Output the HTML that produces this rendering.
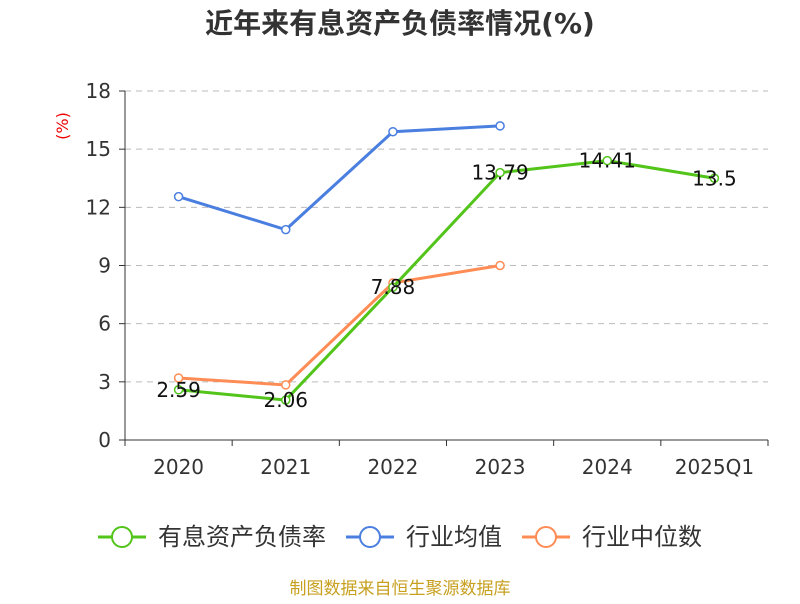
<!DOCTYPE html>
<html><head><meta charset="utf-8"><style>
body{margin:0;background:#fff;font-family:"DejaVu Sans","Noto Sans CJK SC",sans-serif}
</style></head><body>
<svg width="800" height="600" xmlns="http://www.w3.org/2000/svg" font-family="DejaVu Sans, Noto Sans CJK SC, sans-serif">
<text x="400" y="33" text-anchor="middle" font-size="28" font-weight="bold" fill="#333">近年来有息资产负债率情况(%)</text>
<text x="68" y="126" transform="rotate(-90 68 126)" text-anchor="middle" font-size="16" fill="#e00">(%)</text>
<g id="grid"></g><g id="axes"></g><g id="series"></g><g id="labels"></g>
<g>
<g><line x1="98" y1="537" x2="146" y2="537" stroke="#52c41a" stroke-width="3"/><circle cx="122" cy="537" r="10" fill="#fff" stroke="#52c41a" stroke-width="2"/><text x="158" y="545" font-size="24" fill="#333">有息资产负债率</text></g>
<g><line x1="346" y1="537" x2="394" y2="537" stroke="#4a7fe0" stroke-width="3"/><circle cx="370" cy="537" r="10" fill="#fff" stroke="#4a7fe0" stroke-width="2"/><text x="406" y="545" font-size="24" fill="#333">行业均值</text></g>
<g><line x1="522" y1="537" x2="570" y2="537" stroke="#ff8c55" stroke-width="3"/><circle cx="546" cy="537" r="10" fill="#fff" stroke="#ff8c55" stroke-width="2"/><text x="582" y="545" font-size="24" fill="#333">行业中位数</text></g>
</g>
<text x="400" y="594" text-anchor="middle" font-size="17" fill="#c8a020">制图数据来自恒生聚源数据库</text>
</svg>
<script>
const categories=["2020","2021","2022","2023","2024","2025Q1"];
const companyValues=[2.59,2.06,7.88,13.79,14.41,13.5];
const avgValues=[12.55,10.85,15.9,16.2,null,null];
const medianValues=[3.2,2.84,8.1,9.0,null,null];
const yTicks=[0,3,6,9,12,15,18];
const NS="http://www.w3.org/2000/svg";
const x0=125,x1=768,yB=440,yT=91;
const bw=(x1-x0)/categories.length;
const xS=i=>x0+bw*(i+0.5);
const yS=v=>yB-(v/18)*(yB-yT);
function mk(t,a,p){const e=document.createElementNS(NS,t);for(const k in a)e.setAttribute(k,a[k]);p.appendChild(e);return e;}
const grid=document.getElementById('grid'),axes=document.getElementById('axes'),ser=document.getElementById('series'),lab=document.getElementById('labels');
yTicks.forEach(v=>{
 if(v>0){const g=mk('line',{x1:x0,x2:x1,y1:yS(v),y2:yS(v),stroke:'#bbb','stroke-dasharray':'6,5'},grid);
 
 }
 mk('line',{x1:x0-6,x2:x0,y1:yS(v),y2:yS(v),stroke:'#333'},axes);
 const t=mk('text',{x:x0-14,y:yS(v)+7,'text-anchor':'end','font-size':20,fill:'#333'},axes);t.textContent=v;
 
 
});
mk('line',{x1:x0,x2:x0,y1:yT,y2:yB,stroke:'#333'},axes);
mk('line',{x1:x0,x2:x1,y1:yB,y2:yB,stroke:'#333'},axes);
for(let i=0;i<=categories.length;i++)mk('line',{x1:x0+bw*i,x2:x0+bw*i,y1:yB,y2:yB+6,stroke:'#333'},axes);
categories.forEach((c,i)=>{const t=mk('text',{x:xS(i),y:474,'text-anchor':'middle','font-size':20,fill:'#333'},axes);t.textContent=c;
 
 });
function series(vals,color,name){
 const pts=[];vals.forEach((v,i)=>{if(v!=null)pts.push([xS(i),yS(v)]);});
 const p=mk('polyline',{points:pts.map(q=>q.join(',')).join(' '),fill:'none',stroke:color,'stroke-width':3},ser);
 
 
 pts.forEach(q=>{const c=mk('circle',{cx:q[0],cy:q[1],r:4,fill:'#fff',stroke:color,'stroke-width':1.5},ser);
 
 });
}
series(avgValues,'#4a7fe0','industry-avg');
series(medianValues,'#ff8c55','industry-median');
series(companyValues,'#52c41a','company');
companyValues.forEach((v,i)=>{const t=mk('text',{x:xS(i),y:yS(v)+7,'text-anchor':'middle','font-size':20,fill:'#111'},lab);t.textContent=v;
 
 });
</script>
</body></html>
